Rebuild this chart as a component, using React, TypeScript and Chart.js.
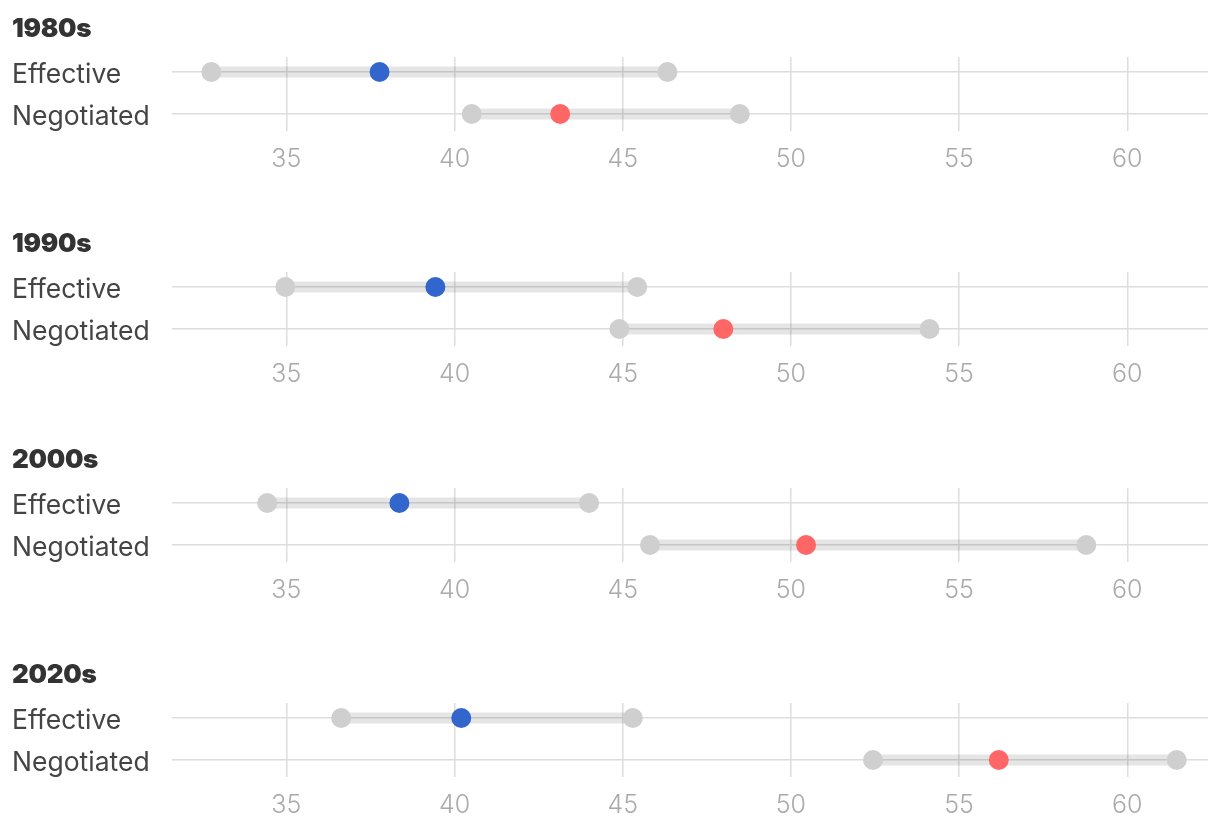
import React, { useEffect, useRef } from "react";
import { Chart, registerables } from "chart.js";

Chart.register(...registerables);

const decades = ["1980s", "1990s", "2000s", "2020s"];
const rowLabels = ["Effective", "Negotiated"];
const xTicks = [35, 40, 45, 50, 55, 60];

const effectiveLow = [32.77, 34.97, 34.43, 36.63];
const effectiveMid = [37.77, 39.43, 38.36, 40.2];
const effectiveHigh = [46.33, 45.43, 44.0, 45.3];

const negotiatedLow = [40.51, 44.9, 45.81, 52.44];
const negotiatedMid = [43.14, 47.99, 50.45, 56.18];
const negotiatedHigh = [48.48, 54.12, 58.78, 61.47];

const PANEL_H = 215;
const PANEL_STEP = 215.3;
const FONT = "Inter, 'Noto Sans', sans-serif";

function Panel({ index }: { index: number }) {
  const ref = useRef<HTMLCanvasElement | null>(null);
  useEffect(() => {
    if (!ref.current) return;
    const gray = "#cfcfcf";
    const rangeColor = "rgba(0,0,0,0.1)";
    const chart = new Chart(ref.current, {
      type: "scatter",
      data: {
        datasets: [
          {
            data: [{ x: effectiveMid[index], y: 0 }],
            backgroundColor: "#3366cc",
            pointRadius: 10,
            pointBorderWidth: 0,
            showLine: false,
          },
          {
            data: [{ x: negotiatedMid[index], y: 1 }],
            backgroundColor: "#ff6666",
            pointRadius: 10,
            pointBorderWidth: 0,
            showLine: false,
          },
          {
            data: [
              { x: effectiveLow[index], y: 0 },
              { x: effectiveHigh[index], y: 0 },
              { x: negotiatedLow[index], y: 1 },
              { x: negotiatedHigh[index], y: 1 },
            ],
            backgroundColor: gray,
            pointRadius: 10,
            pointBorderWidth: 0,
            showLine: false,
          },
          {
            data: [
              { x: effectiveLow[index], y: 0 },
              { x: effectiveHigh[index], y: 0 },
            ],
            borderColor: rangeColor,
            borderWidth: 11,
            borderCapStyle: "butt",
            pointRadius: 0,
            showLine: true,
          },
          {
            data: [
              { x: negotiatedLow[index], y: 1 },
              { x: negotiatedHigh[index], y: 1 },
            ],
            borderColor: rangeColor,
            borderWidth: 11,
            borderCapStyle: "butt",
            pointRadius: 0,
            showLine: true,
          },
        ],
      } as any,
      options: {
        animation: false,
        responsive: false,
        events: [],
        layout: { padding: { top: 57, left: 12, right: 12, bottom: 39 } },
        plugins: { legend: { display: false }, tooltip: { enabled: false }, title: { display: false } },
        scales: {
          x: {
            type: "linear",
            min: 31.6,
            max: 62.4,
            afterBuildTicks: (scale: any) => {
              scale.ticks = xTicks.map((v) => ({ value: v }));
            },
            afterFit: (scale: any) => {
              scale.height = 45;
            },
            grid: { color: "#dddddd", lineWidth: 1.5, drawTicks: false },
            border: { display: false },
            ticks: {
              padding: 13,
              color: "#aaaaaa",
              font: { family: FONT, size: 25, weight: "300" },
              callback: (v: any) => String(v),
            },
          },
          y: {
            type: "linear",
            reverse: true,
            min: -0.357,
            max: 1.405,
            afterBuildTicks: (scale: any) => {
              scale.ticks = rowLabels.map((_, i) => ({ value: i }));
            },
            afterFit: (scale: any) => {
              scale.width = 160;
            },
            grid: { color: "#dddddd", lineWidth: 1.5, drawTicks: false },
            border: { display: false },
            ticks: {
              crossAlign: "far",
              labelOffset: 3,
              color: "#444444",
              font: { family: FONT, size: 26.5, weight: "400" },
              callback: (v: any) => rowLabels[v] ?? "",
            },
          },
        },
      } as any,
    });
    return () => chart.destroy();
  }, [index]);

  const top = Math.round(index * PANEL_STEP);
  return (
    <div style={{ position: "absolute", left: 0, top, width: 1220, height: PANEL_H }}>
      <canvas ref={ref} width={1220} height={PANEL_H} style={{ width: 1220, height: PANEL_H, display: "block" }} />
      <div
        style={{
          position: "absolute",
          left: 12,
          top: 13,
          fontFamily: FONT,
          fontWeight: 900,
          fontSize: 26,
          lineHeight: "30px",
          color: "#333333",
          letterSpacing: "-0.3px",
        }}
      >
        {decades[index]}
      </div>
    </div>
  );
}

export default function App() {
  useEffect(() => {
    document.body.style.margin = "0";
    document.body.style.background = "#ffffff";
  }, []);
  return (
    <div style={{ position: "relative", width: 1220, height: 830, background: "#fff", overflow: "hidden" }}>
      {decades.map((_, i) => (
        <Panel key={i} index={i} />
      ))}
    </div>
  );
}
